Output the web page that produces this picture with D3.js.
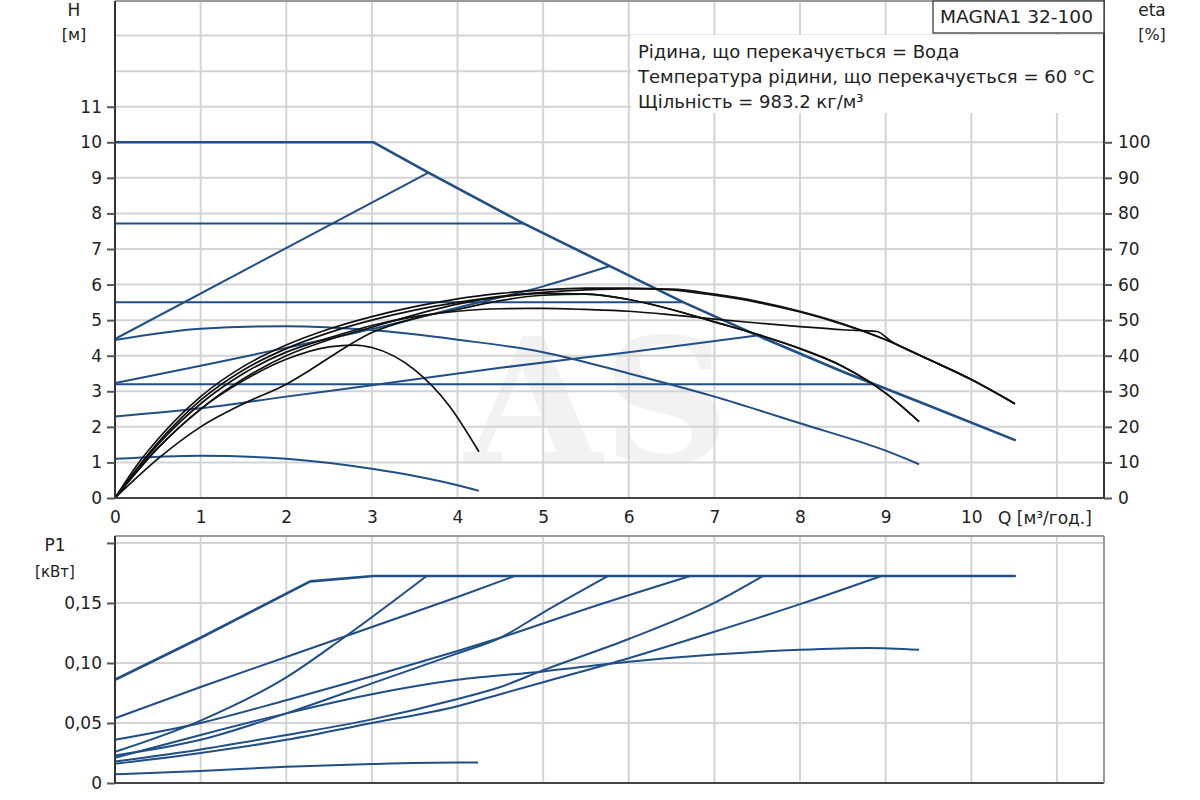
<!DOCTYPE html>
<html>
<head>
<meta charset="utf-8">
<script src="https://cdn.jsdelivr.net/npm/d3@7"></script>
<style>
  body { margin: 0; background: #fff; }
  svg { font-family: "DejaVu Sans", Verdana, sans-serif; }
</style>
</head>
<body>
<div id="graph"></div>
<script>
//Tick values and labels of the axes.
const qTicks = [0, 1, 2, 3, 4, 5, 6, 7, 8, 9, 10];
const hTicks = [0, 1, 2, 3, 4, 5, 6, 7, 8, 9, 10, 11];
const etaTicks = [0, 10, 20, 30, 40, 50, 60, 70, 80, 90, 100];
const pTicks = [0, 0.05, 0.10, 0.15, 0.20];
const pTickLabels = ["0", "0,05", "0,10", "0,15", ""];

//Texts of the chart.
const infoLines = [
  "Рідина, що перекачується = Вода",
  "Температура рідини, що перекачується = 60 °C",
  "Щільність = 983.2 кг/м³"
];
const pumpName = "MAGNA1 32-100";

//Head curves H(Q) in metres.
const qMax = [0, 3.02, 3.66, 4.77, 5.78, 6.64, 7.5, 8.5, 9.5, 10.52];
const hMax = [10, 10, 9.15, 7.72, 6.52, 5.5, 4.57, 3.55, 2.6, 1.62];
const qCp77 = [0, 4.77];
const hCp77 = [7.72, 7.72];
const qCp55 = [0, 6.64];
const hCp55 = [5.5, 5.5];
const qCp32 = [0, 8.87];
const hCp32 = [3.2, 3.2];
const qPpMax = [0, 3.66];
const hPpMax = [4.47, 9.15];
const qPp325 = [0, 1, 2, 3, 4, 5, 5.78];
const hPp325 = [3.23, 3.72, 4.22, 4.75, 5.35, 5.95, 6.52];
const qPp23 = [0, 1, 2, 3, 4.5, 6, 7.5];
const hPp23 = [2.29, 2.52, 2.85, 3.17, 3.66, 4.1, 4.57];
const qConst = [0, 1, 2, 3, 4, 5, 6, 7, 8, 9, 9.39];
const hConst = [4.44, 4.76, 4.83, 4.72, 4.45, 4.1, 3.5, 2.85, 2.1, 1.33, 0.95];
const qMin = [0, 1, 2, 3, 3.5, 4, 4.25];
const hMin = [1.1, 1.19, 1.1, 0.82, 0.62, 0.36, 0.2];

//Efficiency curves eta(Q) in percent.
const qEta1 = [0, 0.25, 0.5, 1, 1.5, 2, 2.5, 3, 3.5, 4, 4.5, 5, 5.5, 6, 6.5, 7, 7.5, 8, 8.5, 9, 9.5, 10, 10.51];
const eta1 = [0, 9, 16.5, 28.5, 37, 43, 47.5, 51, 53.8, 56, 57.5, 58.5, 59, 59, 58.5, 57, 55, 52.3, 48.8, 44.5, 39, 33.3, 26.5];
const qEta2 = [0, 0.5, 1, 1.5, 2, 2.5, 3, 3.5, 4, 4.5, 5, 5.5, 6, 6.5, 7, 7.5, 8, 8.5, 9, 9.5, 10, 10.51];
const eta2 = [0, 15.5, 27.5, 36, 42, 46.5, 50, 52.8, 55, 56.7, 57.8, 58.5, 58.8, 58.7, 57.3, 55.3, 52.5, 49, 44.5, 39, 33.3, 26.5];
const qEta3 = [0, 0.5, 1, 1.5, 2, 2.5, 3, 3.5, 4, 4.5, 5, 5.5, 6, 6.5, 7, 7.5, 8, 8.5, 8.9, 9.05, 9.5, 10, 10.51];
const eta3 = [0, 15, 26.5, 35, 41, 45, 48.5, 51, 52.5, 53.2, 53.3, 53, 52.5, 51.5, 50.3, 49.2, 48.2, 47.3, 46.8, 44.3, 39, 33.3, 26.5];
const qEta4 = [0, 0.5, 1, 1.5, 2, 2.5, 3, 3.5, 4, 4.5, 5, 5.5, 6, 6.5, 7, 7.5, 8, 8.5, 9, 9.39];
const eta4 = [0, 14, 25, 33.5, 40, 44.5, 48, 51.5, 54.5, 56.5, 57.5, 57.3, 55.8, 53, 49.5, 46, 42, 37, 29.5, 21.5];
const qEta5 = [0, 0.5, 1, 1.5, 2, 2.28, 2.6, 3, 3.5, 4, 4.5, 5, 5.5, 6, 6.5, 7, 7.5, 8, 8.5, 9, 9.39];
const eta5 = [0, 11, 20, 26.5, 32, 36, 41, 46.5, 50.5, 53, 55.5, 57, 57.3, 55.8, 53, 49.5, 46, 42, 37, 29.5, 21.5];
const qEta6 = [0, 0.5, 1, 1.5, 2, 2.5, 2.8, 3, 3.5, 3.9, 4.25];
const eta6 = [0, 14, 25, 33, 39, 42.5, 43, 42.3, 36, 26, 13];

//Power curves P1(Q) in kW.
const qP1Max = [0, 1, 2.28, 3.02, 10.52];
const p1Max = [0.086, 0.121, 0.168, 0.1725, 0.1725];
const qP1Cp77 = [0, 1, 2, 3, 4, 4.67];
const p1Cp77 = [0.054, 0.080, 0.105, 0.130, 0.155, 0.1725];
const qP1PpMax = [0, 1, 2, 2.65, 3.64];
const p1PpMax = [0.026, 0.052, 0.088, 0.120, 0.1725];
const qP1Cp55 = [0, 1, 2, 3, 4, 4.5, 5.5, 6.72];
const p1Cp55 = [0.036, 0.050, 0.069, 0.089, 0.110, 0.121, 0.145, 0.1725];
const qP1Pp325 = [0, 1, 2, 3, 4, 4.5, 5, 5.76];
const p1Pp325 = [0.023, 0.036, 0.058, 0.083, 0.108, 0.121, 0.142, 0.1725];
const qP1Const = [0, 1, 2, 3, 4, 5, 6, 7, 8, 8.8, 9.39];
const p1Const = [0.021, 0.040, 0.058, 0.074, 0.086, 0.093, 0.101, 0.107, 0.111, 0.1125, 0.111];
const qP1Pp23 = [0, 1, 2, 3, 4, 4.5, 5, 6, 7, 7.57];
const p1Pp23 = [0.018, 0.028, 0.040, 0.053, 0.070, 0.080, 0.094, 0.120, 0.150, 0.1725];
const qP1Cp32 = [0, 1, 2, 3, 4, 4.5, 5, 6, 7, 8, 8.95];
const p1Cp32 = [0.016, 0.025, 0.036, 0.050, 0.064, 0.074, 0.084, 0.104, 0.126, 0.149, 0.1725];
const qP1Min = [0, 1, 2, 3, 4, 4.24];
const p1Min = [0.0072, 0.010, 0.0135, 0.0158, 0.017, 0.017];

//Layout of the two plots.
const w = 1200;
const h = 800;
const left = 115;
const right = 1104;
const topPlot = { y0: 0, y1: 498 };
const botPlot = { y0: 536, y1: 783 };

const blue = "#1f4f86";
const gridColor = "#d4d4d4";
const textColor = "#222";

const svg = d3.select("#graph")
  .append("svg")
  .attr("width", w)
  .attr("height", h);

//Scales shared by the two plots.
const xScale = d3.scaleLinear().domain([0, 11.55]).range([left, right]);
const hScale = d3.scaleLinear().domain([0, 14]).range([topPlot.y1, topPlot.y0]);
const etaScale = d3.scaleLinear().domain([0, 140]).range([topPlot.y1, topPlot.y0]);
const pScale = d3.scaleLinear().domain([0, 0.2058]).range([botPlot.y1, botPlot.y0]);

//Watermark behind the curves.
svg.append("text")
  .attr("x", 465)
  .attr("y", 462)
  .attr("textLength", 265)
  .attr("lengthAdjust", "spacingAndGlyphs")
  .style("font-family", "'DejaVu Serif', serif")
  .style("font-weight", "bold")
  .style("font-size", "172px")
  .style("fill", "#f2f2f2")
  .text("AS");

//Draws the grid of one plot.
function drawGrid(yScale, yGrid, y0, y1) {
  const g = svg.append("g");
  g.selectAll(".vgrid")
    .data(d3.range(1, 12))
    .enter()
    .append("line")
    .attr("x1", d => xScale(d))
    .attr("x2", d => xScale(d))
    .attr("y1", y0)
    .attr("y2", y1)
    .attr("stroke", gridColor)
    .attr("stroke-width", 2);
  g.selectAll(".hgrid")
    .data(yGrid)
    .enter()
    .append("line")
    .attr("x1", left)
    .attr("x2", right)
    .attr("y1", d => yScale(d))
    .attr("y2", d => yScale(d))
    .attr("stroke", gridColor)
    .attr("stroke-width", 2);
}

drawGrid(hScale, d3.range(1, 14), topPlot.y0, topPlot.y1);
drawGrid(pScale, [0.05, 0.10, 0.15, 0.20], botPlot.y0, botPlot.y1);

//White area under the liquid description.
svg.append("rect")
  .attr("x", 631)
  .attr("y", 35)
  .attr("width", right - 632)
  .attr("height", 78)
  .attr("fill", "#fff");

//Draws one curve from a pair of arrays.
function drawCurve(qs, vs, yScale, color, width, curve) {
  const line = d3.line()
    .x(d => xScale(d[0]))
    .y(d => yScale(d[1]))
    .curve(curve);
  svg.append("path")
    .attr("d", line(d3.zip(qs, vs)))
    .attr("fill", "none")
    .attr("stroke", color)
    .attr("stroke-width", width)
    .attr("stroke-linejoin", "round");
}

//Head curves.
drawCurve(qMax, hMax, hScale, blue, 2.6, d3.curveLinear);
drawCurve(qCp77, hCp77, hScale, blue, 2, d3.curveLinear);
drawCurve(qCp55, hCp55, hScale, blue, 2, d3.curveLinear);
drawCurve(qCp32, hCp32, hScale, blue, 2, d3.curveLinear);
drawCurve(qPpMax, hPpMax, hScale, blue, 2, d3.curveLinear);
drawCurve(qPp325, hPp325, hScale, blue, 2, d3.curveMonotoneX);
drawCurve(qPp23, hPp23, hScale, blue, 2, d3.curveMonotoneX);
drawCurve(qConst, hConst, hScale, blue, 2, d3.curveMonotoneX);
drawCurve(qMin, hMin, hScale, blue, 2, d3.curveMonotoneX);

//Efficiency curves.
[[qEta1, eta1], [qEta2, eta2], [qEta3, eta3], [qEta4, eta4], [qEta5, eta5], [qEta6, eta6]]
  .forEach(s => drawCurve(s[0], s[1], etaScale, "#111", 1.7, d3.curveMonotoneX));

//Power curves.
drawCurve(qP1Max, p1Max, pScale, blue, 2.6, d3.curveLinear);
[[qP1Cp77, p1Cp77], [qP1PpMax, p1PpMax], [qP1Cp55, p1Cp55], [qP1Pp325, p1Pp325],
 [qP1Const, p1Const], [qP1Pp23, p1Pp23], [qP1Cp32, p1Cp32], [qP1Min, p1Min]]
  .forEach(s => drawCurve(s[0], s[1], pScale, blue, 2, d3.curveMonotoneX));

//Frames of the plots.
function frame(y0, y1) {
  svg.append("line").attr("x1", left).attr("x2", right).attr("y1", y0).attr("y2", y0)
    .attr("stroke", "#9a9a9a").attr("stroke-width", 2);
  svg.append("line").attr("x1", left).attr("x2", right).attr("y1", y1).attr("y2", y1)
    .attr("stroke", "#444").attr("stroke-width", 2);
  svg.append("line").attr("x1", left).attr("x2", left).attr("y1", y0).attr("y2", y1)
    .attr("stroke", "#333").attr("stroke-width", 2);
}
frame(topPlot.y0 + 1, topPlot.y1);
frame(botPlot.y0, botPlot.y1);
svg.append("line").attr("x1", right).attr("x2", right).attr("y1", topPlot.y0).attr("y2", topPlot.y1)
  .attr("stroke", "#333").attr("stroke-width", 2);
svg.append("line").attr("x1", right).attr("x2", right).attr("y1", botPlot.y0).attr("y2", botPlot.y1)
  .attr("stroke", "#9a9a9a").attr("stroke-width", 2);

//Axes with ticks and labels.
function styleAxis(g) {
  g.select(".domain").remove();
  g.selectAll("line").attr("stroke", "#555").attr("stroke-width", 2);
  g.selectAll("text").style("font-size", "17px").style("fill", textColor)
    .style("font-family", "'DejaVu Sans', Verdana, sans-serif");
}

svg.append("g")
  .attr("transform", "translate(" + left + ",0)")
  .call(d3.axisLeft(hScale).tickValues(hTicks).tickSize(8).tickPadding(5))
  .call(styleAxis);

svg.append("g")
  .attr("transform", "translate(" + right + ",0)")
  .call(d3.axisRight(etaScale).tickValues(etaTicks).tickSize(8).tickPadding(6))
  .call(styleAxis);

svg.append("g")
  .attr("transform", "translate(0," + topPlot.y1 + ")")
  .call(d3.axisBottom(xScale).tickValues(qTicks).tickSize(0).tickPadding(13))
  .call(styleAxis);

svg.append("g")
  .attr("transform", "translate(" + left + ",0)")
  .call(d3.axisLeft(pScale).tickValues(pTicks).tickSize(8).tickPadding(5)
    .tickFormat((d, i) => pTickLabels[i]))
  .call(styleAxis);

//Axis titles.
function label(x, y, txt, anchor, size) {
  return svg.append("text")
    .attr("x", x)
    .attr("y", y)
    .style("text-anchor", anchor)
    .style("font-size", size + "px")
    .style("fill", textColor)
    .text(txt);
}
label(74, 16, "H", "middle", 17);
label(74, 40, "[м]", "middle", 16);
label(1152, 16, "eta", "middle", 17);
label(1152, 40, "[%]", "middle", 16);
label(998, 524, "Q [м³/год.]", "start", 17);
label(55, 551, "P1", "middle", 17);
label(55, 577, "[кВт]", "middle", 15);

//Pump name box.
svg.append("rect")
  .attr("x", 933)
  .attr("y", 1)
  .attr("width", right - 933)
  .attr("height", 32)
  .attr("fill", "#fff")
  .attr("stroke", "#555")
  .attr("stroke-width", 1.5);
label(940, 23, pumpName, "start", 17.5)
  .attr("textLength", 153)
  .attr("lengthAdjust", "spacingAndGlyphs");

//Liquid description.
svg.selectAll(".info")
  .data(infoLines)
  .enter()
  .append("text")
  .attr("x", 638)
  .attr("y", (d, i) => 58 + i * 25)
  .style("font-size", "18px")
  .style("fill", textColor)
  .text(d => d);
</script>
</body>
</html>
